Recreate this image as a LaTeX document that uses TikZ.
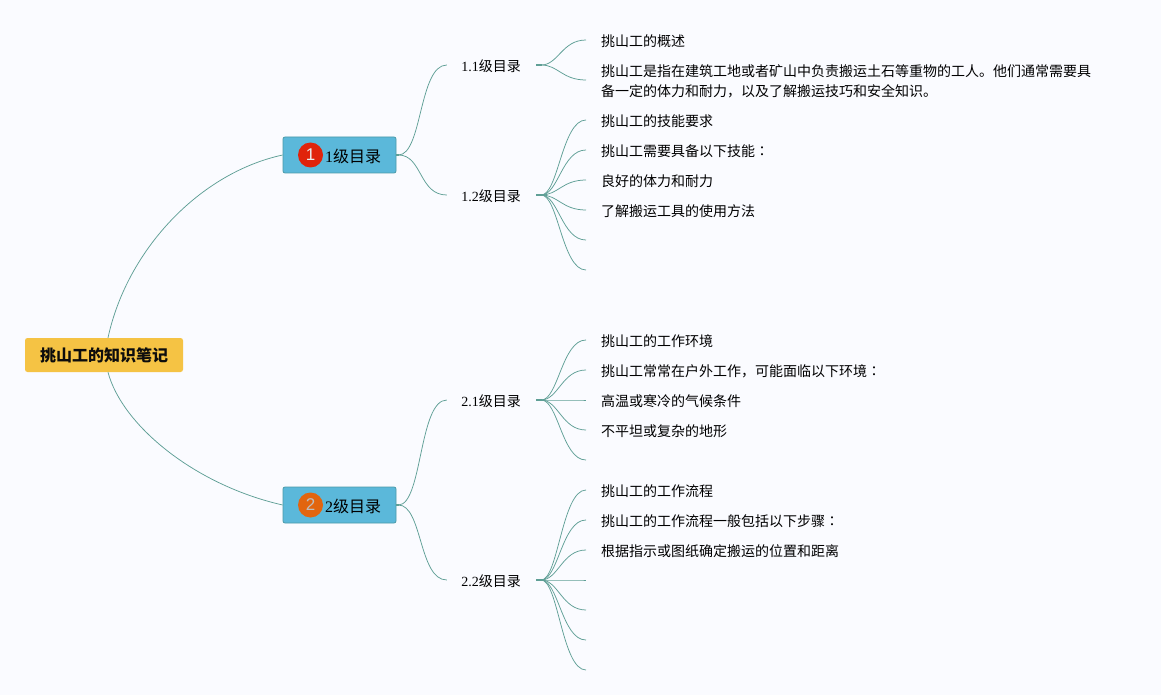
\documentclass[tikz,border=0pt]{standalone}
\usepackage{fontspec}
\setmainfont{Liberation Serif}
\setsansfont{Liberation Sans}
\newfontfamily\cjk{Noto Sans CJK SC}
\newfontfamily\cjkjp{Noto Sans CJK JP}
\usetikzlibrary{calc}
\definecolor{bgc}{HTML}{FAFBFF}
\definecolor{linkc}{HTML}{5F9F96}
\definecolor{rootc}{HTML}{F5C344}
\definecolor{mainc}{HTML}{5BB8DA}
\definecolor{mainb}{HTML}{4A9AA8}
\definecolor{badgea}{HTML}{E0230B}
\definecolor{badgeb}{HTML}{E2650F}
\tikzset{
  rootbox/.style={fill=rootc,rounded corners=2.5pt,minimum width=158pt,minimum height=34pt,inner sep=0pt,font=\cjk\bfseries\fontsize{16}{20}\selectfont,text=black!95},
  mainbox/.style={fill=mainc,draw=mainb,line width=0.8pt,rounded corners=2pt,minimum width=113pt,minimum height=36pt,inner sep=0pt},
  badgedisc/.style={circle,minimum size=25pt,inner sep=0pt,font=\sffamily\fontsize{17}{20}\selectfont},
  subbox/.style={minimum width=89pt,minimum height=20pt,inner sep=0pt,font=\fontsize{14}{20}\selectfont},
  leaf/.style={anchor=west,inner xsep=15pt,inner ysep=0pt,align=left,font=\cjk\fontsize{14}{20}\selectfont},
  stub/.style={inner sep=0pt,minimum size=0pt,outer sep=0pt},
  link/.style={draw=linkc,line width=0.75pt},
  linkroot/.style={draw=linkc,line width=1.5pt}
}
\newcommand{\kcolon}{{\cjkjp ：}}
\newcommand{\branch}[2]{%
  \path[linkroot] (#1.east) -- ($(#1.east)+(6,0)$);
  \path[link] ($(#1.east)+(5,0)$) .. controls ($(#1.east)+(22,0)$) and ($(#2.west)+(-24,-1)$) .. ($(#2.west)+(0,-1)$);}
\newcommand{\limb}[2]{%
  \path[linkroot] (#1.east) -- ($(#1.east)+(3,0)$);
  \path[link] ($(#1.east)+(2,0)$) .. controls ($(#1.east)+(26,0)$) and ($(#2.west)+(-28,0)$) .. (#2.west);}
\begin{document}
\begin{tikzpicture}[x=1pt,y=-1pt]
\fill[bgc] (0,0) rectangle (1161,695);
\useasboundingbox (0,0) rectangle (1161,695);

\node[rootbox] (root) at (104,355) {挑山工的知识笔记};
\node[mainbox] (m1) at (339.5,155) {};
\node[mainbox] (m2) at (339.5,505) {};
\node[badgedisc,fill=badgea,text=black!8] (b1) at (310.5,155) {1};
\node[badgedisc,fill=badgeb,text=black!25] (b2) at (310.5,505) {2};
\node[anchor=west,inner sep=0pt,font=\fontsize{16}{20}\selectfont] (t1) at (325,156) {1{\cjk 级目录}};
\node[anchor=west,inner sep=0pt,font=\fontsize{16}{20}\selectfont] (t2) at (325,506) {2{\cjk 级目录}};

\node[subbox] (s11) at (491.5,65) {};
\node[subbox] (s12) at (491.5,195) {};
\node[subbox] (s21) at (491.5,400) {};
\node[subbox] (s22) at (491.5,580) {};
\node[font=\fontsize{14}{20}\selectfont,inner sep=0pt] at (491,66.5) (s11t) {1.1{\cjk 级目录}};
\node[font=\fontsize{14}{20}\selectfont,inner sep=0pt] at (491,196.5) (s12t) {1.2{\cjk 级目录}};
\node[font=\fontsize{14}{20}\selectfont,inner sep=0pt] at (491,401.5) (s21t) {2.1{\cjk 级目录}};
\node[font=\fontsize{14}{20}\selectfont,inner sep=0pt] at (491,581.5) (s22t) {2.2{\cjk 级目录}};

\node[leaf] (a1) at (586,41) {挑山工的概述};
\node[leaf] (a2) at (586,81) {挑山工是指在建筑工地或者矿山中负责搬运土石等重物的工人。他们通常需要具\\备一定的体力和耐力，以及了解搬运技巧和安全知识。};

\node[leaf] (c1) at (586,121) {挑山工的技能要求};
\node[leaf] (c2) at (586,151) {挑山工需要具备以下技能\kcolon};
\node[leaf] (c3) at (586,181) {良好的体力和耐力};
\node[leaf] (c4) at (586,211) {了解搬运工具的使用方法};
\node[stub] (c5) at (586,241) {};
\node[stub] (c6) at (586,271) {};

\node[leaf] (d1) at (586,341) {挑山工的工作环境};
\node[leaf] (d2) at (586,371) {挑山工常常在户外工作，可能面临以下环境\kcolon};
\node[leaf] (d3) at (586,401) {高温或寒冷的气候条件};
\node[leaf] (d4) at (586,431) {不平坦或复杂的地形};
\node[stub] (d5) at (586,461) {};

\node[leaf] (e1) at (586,491) {挑山工的工作流程};
\node[leaf] (e2) at (586,521) {挑山工的工作流程一般包括以下步骤\kcolon};
\node[leaf] (e3) at (586,551) {根据指示或图纸确定搬运的位置和距离};
\node[stub] (e4) at (586,581) {};
\node[stub] (e5) at (586,611) {};
\node[stub] (e6) at (586,641) {};
\node[stub] (e7) at (586,671) {};

\path[link] ($(root.north)+(4,0)$) .. controls ($(root.north)+(23,-88)$) and ($(m1.west)+(-83,18)$) .. (m1.west);
\path[link] ($(root.south)+(4,0)$) .. controls ($(root.south)+(18,53)$) and ($(m2.west)+(-88,-20)$) .. (m2.west);

\limb{m1}{s11}
\limb{m1}{s12}
\limb{m2}{s21}
\limb{m2}{s22}

\branch{s11}{a1}
\branch{s11}{a2}
\foreach \k in {1,...,6} {\branch{s12}{c\k}}
\foreach \k in {1,...,5} {\branch{s21}{d\k}}
\foreach \k in {1,...,7} {\branch{s22}{e\k}}
\end{tikzpicture}
\end{document}
